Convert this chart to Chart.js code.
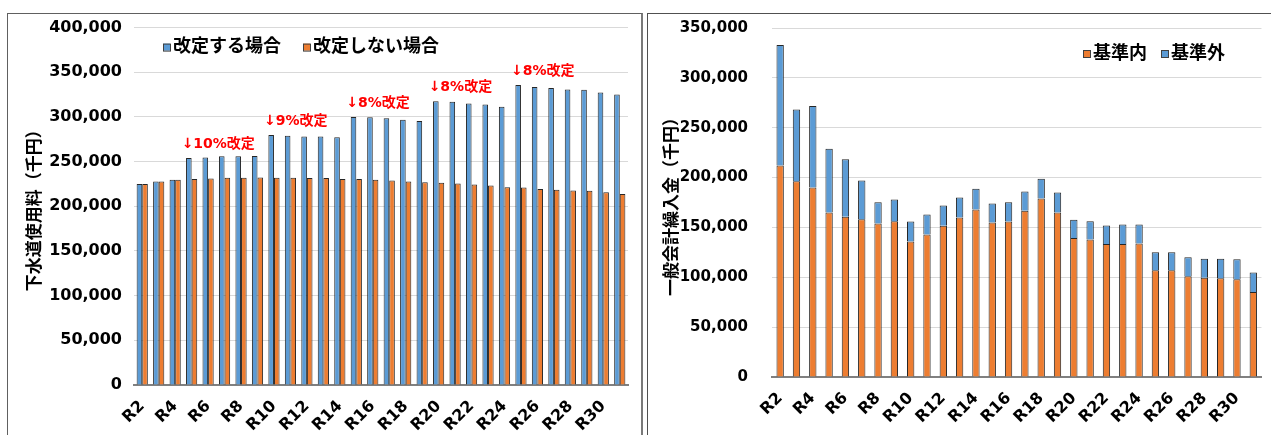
<!DOCTYPE html>
<html>
<head>
<meta charset="utf-8">
<script src="https://cdn.jsdelivr.net/npm/chart.js@4.4.1/dist/chart.umd.min.js"></script>
<style>
    body { margin: 0; background: #fff; overflow: hidden; width: 1271px; height: 435px; position: relative; }
    .panel { position: absolute; background: #fff; }
    #left-panel { left: 7px; top: 13px; width: 633px; height: 440px; border: 1px solid #606060; border-right: 2px solid #7a7a7a; }
    #right-panel { left: 647px; top: 13px; width: 640px; height: 440px; border: 1px solid #505050; }
    canvas { position: absolute; }
    #fee-chart { left: 8px; top: 6px; }
    #transfer-chart { left: 648px; top: -5px; }
</style>
</head>
<body>
<div class="panel" id="left-panel"></div>
<div class="panel" id="right-panel"></div>
<canvas id="fee-chart" width="632" height="429"></canvas>
<canvas id="transfer-chart" width="623" height="440"></canvas>

<script>
// Fiscal years R2 .. R31
const categories = ['R2', 'R3', 'R4', 'R5', 'R6', 'R7', 'R8', 'R9', 'R10', 'R11',
    'R12', 'R13', 'R14', 'R15', 'R16', 'R17', 'R18', 'R19', 'R20', 'R21',
    'R22', 'R23', 'R24', 'R25', 'R26', 'R27', 'R28', 'R29', 'R30', 'R31'];

// Left chart: sewer usage fee (thousand yen)
const revisedFee = [225000, 227800, 229700, 254000, 254500, 256000, 256000, 256400, 279700, 279000,
    278200, 278200, 277400, 300000, 299600, 298500, 297000, 295500, 317700, 316900,
    315000, 313900, 311300, 335700, 333500, 332300, 330800, 330500, 327400, 325200];
const unrevisedFee = [225000, 227800, 229700, 230500, 231200, 232000, 232000, 232300, 232000, 232000,
    231600, 231600, 230500, 230500, 229700, 229000, 227800, 227000, 226300, 225600,
    224400, 223300, 221400, 221000, 219500, 218400, 217700, 217300, 215800, 213900];

// Revision notes and the year each one starts
const revisionLabels = ['↓10%改定', '↓9%改定', '↓8%改定', '↓8%改定', '↓8%改定'];
const revisionYears = ['R5', 'R10', 'R15', 'R20', 'R25'];

// Right chart: general account transfer (thousand yen)
const withinStandard = [212000, 196300, 190000, 165000, 160700, 158300, 154000, 156300, 136000, 143000,
    151700, 160000, 168000, 155000, 156000, 166700, 179000, 165000, 139300, 138000,
    133300, 133300, 134000, 107000, 107000, 101000, 99500, 99000, 98000, 85300];
const outsideStandard = [121000, 72000, 81700, 64000, 57600, 38700, 21300, 21700, 20000, 20000,
    20300, 20000, 20700, 19000, 19300, 19300, 19700, 20000, 18400, 18300,
    18700, 19700, 19000, 18000, 18000, 19000, 19200, 19700, 20000, 19400];

const BLUE = '#5B9BD5';
const ORANGE = '#ED7D31';
const EDGE = '#262626';
const FONT = "'DejaVu Sans', 'Noto Sans CJK JP', sans-serif";

// Legend drawn inside the plot area, as in the original
function legendPlugin(items, dx, dy, gap) {
    return {
        id: 'innerLegend',
        afterDraw: (chart) => {
            const { ctx, chartArea } = chart;
            ctx.save();
            ctx.font = 'bold 18px ' + FONT;
            ctx.textBaseline = 'middle';
            let x = chartArea.left + dx;
            const y = chartArea.top + dy;
            items.forEach(item => {
                ctx.fillStyle = item.color;
                ctx.fillRect(x, y - 4, 7, 7);
                ctx.strokeStyle = '#404040';
                ctx.lineWidth = 1;
                ctx.strokeRect(x + 0.5, y - 3.5, 7, 7);
                ctx.fillStyle = '#000';
                ctx.fillText(item.text, x + 10, y);
                x += 10 + ctx.measureText(item.text).width + gap;
            });
            ctx.restore();
        }
    };
}

const revisionNotes = {
    id: 'revisionNotes',
    afterDatasetsDraw: (chart) => {
        const { ctx, scales: { x, y } } = chart;
        ctx.save();
        ctx.font = 'bold 14px ' + FONT;
        ctx.fillStyle = '#FF0000';
        ctx.textBaseline = 'middle';
        ctx.textAlign = 'left';
        revisionYears.forEach((year, i) => {
            const idx = categories.indexOf(year);
            const px = x.getPixelForValue(idx) - 10;
            const py = y.getPixelForValue(revisedFee[idx]) - 14;
            ctx.fillText(revisionLabels[i], px, py);
        });
        ctx.restore();
    }
};

function axisOptions(yMax, yWidth, xHeight, titleText, titlePad, tickPad, tickSize) {
    return {
        x: {
            grid: { display: false },
            border: { display: true, color: '#808080', width: 2 },
            ticks: {
                autoSkip: false,
                maxRotation: 45,
                minRotation: 45,
                padding: 4,
                color: '#000',
                font: { family: FONT, size: 16, weight: 'bold' },
                callback: function(value, index) {
                    return index % 2 === 0 ? categories[index] : '';
                },
            },
            afterFit: (axis) => { axis.height = xHeight; },
        },
        y: {
            min: 0,
            max: yMax,
            grid: { color: '#d9d9d9', lineWidth: 1, drawTicks: false },
            border: { display: false },
            ticks: {
                stepSize: 50000,
                padding: tickPad,
                color: '#000',
                font: { family: FONT, size: tickSize, weight: 'bold' },
                callback: (v) => v.toLocaleString('en-US'),
            },
            title: {
                display: true,
                text: titleText,
                color: '#000',
                font: { family: FONT, size: 17, weight: 'bold' },
                padding: { top: titlePad, bottom: 0 },
            },
            afterFit: (axis) => { axis.width = yWidth; },
        },
    };
}

function initCharts() {
    const ctFee = document.getElementById('fee-chart').getContext('2d');
    const ctTr = document.getElementById('transfer-chart').getContext('2d');

    const feeChart = new Chart(ctFee, {
        type: 'bar',
        data: {
            labels: categories,
            datasets: [
                {
                    label: '改定する場合',
                    data: revisedFee,
                    backgroundColor: BLUE,
                    borderColor: EDGE,
                    borderWidth: 1,
                    categoryPercentage: 0.68,
                    barPercentage: 1.0,
                },
                {
                    label: '改定しない場合',
                    data: unrevisedFee,
                    backgroundColor: ORANGE,
                    borderColor: EDGE,
                    borderWidth: 1,
                    categoryPercentage: 0.68,
                    barPercentage: 1.0,
                },
            ],
        },
        options: {
            responsive: false,
            animation: false,
            devicePixelRatio: 1,
            layout: { padding: { top: 0, right: 12, left: 0, bottom: 0 } },
            plugins: { legend: { display: false }, tooltip: { enabled: false } },
            scales: axisOptions(400000, 126, 50, '下水道使用料（千円）', 17, 12, 16),
        },
        plugins: [
            legendPlugin([{ text: '改定する場合', color: BLUE }, { text: '改定しない場合', color: ORANGE }], 29, 20, 22),
            revisionNotes,
        ],
    });

    const trScales = axisOptions(350000, 124, 58, '一般会計繰入金（千円）', 14, 24, 15);
    trScales.x.stacked = true;
    trScales.y.stacked = true;

    const transferChart = new Chart(ctTr, {
        type: 'bar',
        data: {
            labels: categories,
            datasets: [
                {
                    label: '基準内',
                    data: withinStandard,
                    backgroundColor: ORANGE,
                    borderColor: EDGE,
                    borderWidth: 1,
                    categoryPercentage: 1.0,
                    barPercentage: 0.45,
                },
                {
                    label: '基準外',
                    data: outsideStandard,
                    backgroundColor: BLUE,
                    borderColor: EDGE,
                    borderWidth: 1,
                    categoryPercentage: 1.0,
                    barPercentage: 0.45,
                },
            ],
        },
        options: {
            responsive: false,
            animation: false,
            devicePixelRatio: 1,
            layout: { padding: { top: 0, right: 8, left: 0, bottom: 0 } },
            plugins: { legend: { display: false }, tooltip: { enabled: false } },
            scales: trScales,
        },
        plugins: [
            legendPlugin([{ text: '基準内', color: ORANGE }, { text: '基準外', color: BLUE }], 311, 26, 14),
        ],
    });

    return { feeChart, transferChart };
}

initCharts();
</script>
</body>
</html>
